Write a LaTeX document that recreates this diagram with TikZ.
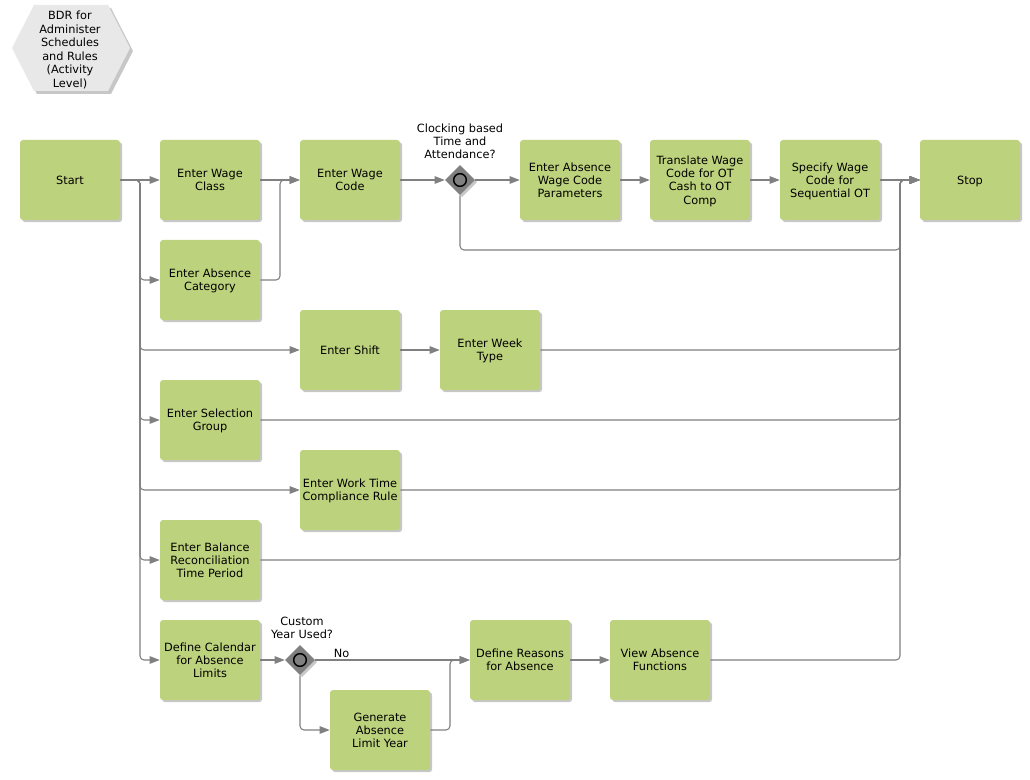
\documentclass[tikz,border=0pt]{standalone}
\usepackage{fontspec}
\setmainfont{DejaVu Sans}
\usetikzlibrary{arrows.meta,shapes.geometric,shadows}
\definecolor{boxgreen}{HTML}{BDD27C}
\definecolor{linegray}{HTML}{808080}
\definecolor{hexfill}{HTML}{E8E8E8}
\definecolor{gwfill}{HTML}{808080}
\tikzset{
  txt/.style={font=\fontsize{8.5}{9.9}\selectfont, align=center, inner sep=0pt},
  stepbox/.style={txt, rectangle, rounded corners=2.25pt, fill=boxgreen,
    minimum width=75pt, minimum height=60pt, text depth=0pt,
    drop shadow={shadow xshift=1.6pt, shadow yshift=-1.6pt, fill=black, opacity=0.22}},
  gateway/.style={diamond, fill=gwfill, minimum size=22.5pt, inner sep=0pt,
    drop shadow={shadow xshift=1.6pt, shadow yshift=-1.6pt, fill=black, opacity=0.22}},
  ring/.style={circle, draw=black, line width=1.1pt, fill=gwfill, minimum size=9.5pt, inner sep=0pt},
  conn/.style={draw=linegray, line width=0.8pt, rounded corners=3pt},
  arr/.style={-{Triangle[length=7.5pt,width=5.6pt]}},
}
\begin{document}
\begin{tikzpicture}[x=0.75pt,y=-0.75pt]
\useasboundingbox (0,0) rectangle (1030,780);
\fill[white] (0,0) rectangle (1030,780);

% hexagon
\fill[black!22] (15,51) -- (37,8) -- (111,8) -- (133,51) -- (111,94) -- (37,94) -- cycle;
\fill[hexfill] (12,48) -- (34,5) -- (108,5) -- (130,48) -- (108,91) -- (34,91) -- cycle;
\node[txt, font=\fontsize{8.5}{10.1}\selectfont] (hex) at (70,50) {BDR for\\Administer\\Schedules\\and Rules\\(Activity\\Level)};

% boxes
\node[stepbox] (start) at (70,180) {Start};
\node[stepbox] (wcl) at (210,180) {Enter Wage\\Class};
\node[stepbox] (wco) at (350,180) {Enter Wage\\Code};
\node[gateway] (g1) at (460,180) {};
\node[ring] (g1r) at (460,180) {};
\node[txt] (g1l) at (460,141) {Clocking based\\Time and\\Attendance?};
\node[stepbox] (awp) at (570,180) {Enter Absence\\Wage Code\\Parameters};
\node[stepbox] (tr) at (700,180) {Translate Wage\\Code for OT\\Cash to OT\\Comp};
\node[stepbox] (sp) at (830,180) {Specify Wage\\Code for\\Sequential OT};
\node[stepbox] (stop) at (970,180) {Stop};
\node[stepbox] (ac) at (210,280) {Enter Absence\\Category};
\node[stepbox] (sh) at (350,350) {Enter Shift};
\node[stepbox] (wt) at (490,350) {Enter Week\\Type};
\node[stepbox] (sg) at (210,420) {Enter Selection\\Group};
\node[stepbox] (wr) at (350,490) {Enter Work Time\\Compliance Rule};
\node[stepbox] (br) at (210,560) {Enter Balance\\Reconciliation\\Time Period};
\node[stepbox] (dc) at (210,660) {Define Calendar\\for Absence\\Limits};
\node[gateway] (g2) at (300,660) {};
\node[ring] (g2r) at (300,660) {};
\node[txt] (g2l) at (302,627.5) {Custom\\Year Used?};
\node[stepbox] (gy) at (380,730) {Generate\\Absence\\Limit Year};
\node[stepbox] (dr) at (520,660) {Define Reasons\\for Absence};
\node[stepbox] (va) at (660,660) {View Absence\\Functions};

\coordinate (t) at (140,180);
\coordinate (m) at (900,180);
\coordinate (j) at (280,180);

% connectors from start
\draw[conn,arr] (start.east) -- (wcl.west);
\draw[conn,arr] (start.east) -- (t) |- (ac.west);
\draw[conn,arr] (start.east) -- (t) |- (sh.west);
\draw[conn,arr] (start.east) -- (t) |- (sg.west);
\draw[conn,arr] (start.east) -- (t) |- (wr.west);
\draw[conn,arr] (start.east) -- (t) |- (br.west);
\draw[conn,arr] (start.east) -- (t) |- (dc.west);

% top row
\draw[conn,arr] (wcl.east) -- (wco.west);
\draw[conn,arr] (ac.east) -| (j) -- (wco.west);
\draw[conn,arr] (wco.east) -- (g1.west);
\draw[conn,arr] (g1.east) -- (awp.west);
\draw[conn,arr] (awp.east) -- (tr.west);
\draw[conn,arr] (tr.east) -- (sp.west);
\draw[conn,arr] (sp.east) -- (stop.west);
\draw[conn,arr] (g1.south) |- (900,250) -- (m) -- (stop.west);

% middle rows
\draw[conn,arr] (sh.east) -- (wt.west);
\draw[conn,arr] (wt.east) -| (m) -- (stop.west);
\draw[conn,arr] (sg.east) -| (m) -- (stop.west);
\draw[conn,arr] (wr.east) -| (m) -- (stop.west);
\draw[conn,arr] (br.east) -| (m) -- (stop.west);

% bottom
\draw[conn,arr] (dc.east) -- (g2.west);
\draw[conn,arr] (g2.east) -- node[txt, above, pos=0.17, yshift=1.5pt] (no) {No} (dr.west);
\draw[conn,arr] (g2.south) |- (gy.west);
\draw[conn,arr] (gy.east) -| (450,660) -- (dr.west);
\draw[conn,arr] (dr.east) -- (va.west);
\draw[conn,arr] (va.east) -| (m) -- (stop.west);
\end{tikzpicture}
\end{document}
